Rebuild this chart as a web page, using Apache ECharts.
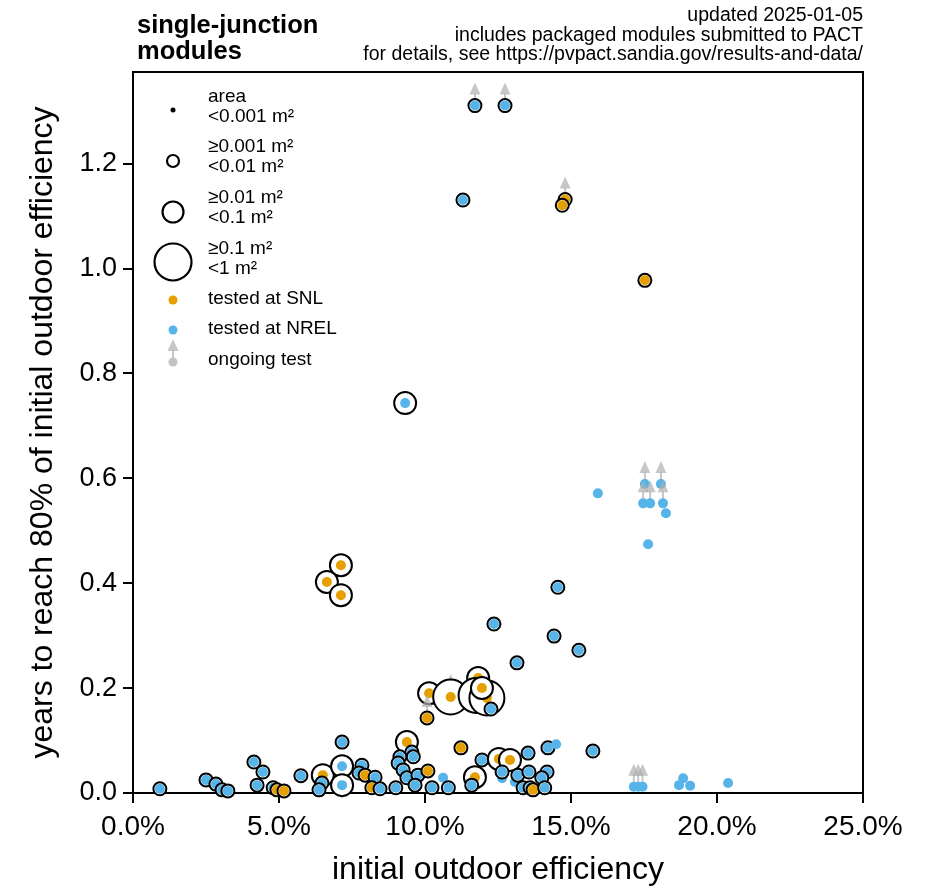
<!DOCTYPE html>
<html>
<head>
<meta charset="utf-8">
<script src="https://cdn.jsdelivr.net/npm/echarts@6/dist/echarts.min.js"></script>
<style>html,body{margin:0;padding:0;background:#fff;}#c{width:926px;height:890px;}</style>
</head>
<body>
<div id="c"></div>
<script>
// ---- data ----
// initial outdoor efficiency (%)
const effPct = [11.71,12.74,11.30,14.80,14.70,17.53,9.32,
  15.92,17.53,18.08,17.47,17.71,18.15,18.25,17.64,
  7.12,6.64,7.12,
  14.55,12.36,14.42,15.27,13.15,
  10.14,10.88,11.82,11.75,12.12,11.95,12.26,10.07,
  0.92,2.50,2.84,3.05,3.25,4.14,4.45,4.25,4.80,4.93,5.17,5.75,6.50,6.47,6.37,
  7.16,7.16,7.16,7.84,7.74,7.95,8.29,8.18,8.46,9.00,9.38,9.55,9.14,9.60,9.08,9.25,9.38,9.76,10.10,9.66,10.24,10.62,10.80,
  11.23,11.95,12.53,12.91,13.53,14.21,14.49,15.75,11.71,11.60,12.64,13.08,12.64,13.18,13.56,14.18,14.00,13.36,13.60,13.70,14.10,
  17.15,17.30,17.45,18.84,18.70,19.08,20.38];
// years to reach 80% of initial outdoor efficiency
const years = [1.310,1.310,1.130,1.131,1.120,0.977,0.743,
  0.571,0.589,0.589,0.552,0.552,0.552,0.533,0.474,
  0.434,0.402,0.377,
  0.392,0.322,0.299,0.272,0.248,
  0.190,0.183,0.219,0.186,0.181,0.200,0.160,0.143,
  0.008,0.025,0.017,0.006,0.004,0.059,0.040,0.015,0.010,0.006,0.004,0.033,0.034,0.019,0.006,
  0.097,0.051,0.015,0.053,0.038,0.034,0.030,0.010,0.008,0.010,0.097,0.078,0.069,0.069,0.057,0.044,0.029,0.034,0.042,0.015,0.010,0.029,0.010,
  0.086,0.063,0.065,0.063,0.076,0.086,0.093,0.080,0.030,0.015,0.028,0.021,0.040,0.034,0.040,0.040,0.029,0.010,0.010,0.006,0.010,
  0.012,0.012,0.012,0.028,0.015,0.014,0.019];
// area class: 0 <0.001 m², 1 <0.01 m², 2 <0.1 m², 3 <1 m²
const areaClass = [1,1,1,1,1,1,2,
  0,0,0,0,0,0,0,0,
  2,2,2,
  1,1,1,1,1,
  2,3,2,3,3,2,1,1,
  1,1,1,1,1,1,1,1,1,1,1,1,2,1,1,
  1,2,2,1,1,1,1,1,1,1,2,1,1,1,1,1,1,1,1,1,1,0,1,
  1,1,2,2,1,1,0,1,2,1,0,0,1,1,1,1,1,1,1,1,1,
  0,0,0,0,0,0,0];
// test site: S = SNL, N = NREL
const site = ['N','N','N','S','S','S','N',
  'N','N','N','N','N','N','N','N',
  'S','S','S',
  'N','N','N','N','N',
  'S','S','S','S','S','S','N','S',
  'N','N','N','N','N','N','N','N','N','S','S','N','S','N','N',
  'N','N','N','N','N','S','N','S','N','N','S','N','N','N','N','N','N','N','S','N','N','N','N',
  'S','N','S','S','N','N','N','N','S','N','N','N','N','N','N','N','N','N','N','S','N',
  'N','N','N','N','N','N','N'];
// ongoing test flag
const ongoing = [1,1,0,1,0,0,0,
  0,1,1,1,1,1,0,0,
  0,0,0,
  0,0,0,0,0,
  0,1,0,0,0,0,0,1,
  0,0,0,0,0,0,0,0,0,0,0,0,0,0,0,
  0,0,0,0,0,0,0,0,0,0,0,0,0,0,0,0,0,0,0,0,0,0,0,
  0,0,0,0,0,0,0,0,0,0,0,0,0,0,0,0,0,0,0,0,0,
  1,1,1,0,0,0,0];
const xTicks = [0,5,10,15,20,25];
const yTicks = [0,0.2,0.4,0.6,0.8,1.0,1.2];

const ORANGE = '#E69F00', BLUE = '#56B4E9', GREY = 'rgba(175,175,175,0.7)';
const FONT = '"Liberation Sans", Arial, Helvetica, sans-serif';
const ringR = [2.5, 6.5, 11, 17.5];

const rows = effPct.map((x, i) => [x, years[i], areaClass[i], site[i] === 'S' ? 0 : 1, ongoing[i]]);

function arrowShapes(cx, cy) {
  return [
    {type:'line', shape:{x1:cx, y1:cy, x2:cx, y2:cy-12}, style:{stroke:GREY, lineWidth:2}, silent:true},
    {type:'polygon', shape:{points:[[cx-5.5,cy-11],[cx+5.5,cy-11],[cx,cy-23]]}, style:{fill:GREY}, silent:true}
  ];
}

function renderItem(params, api) {
  const p = api.coord([api.value(0), api.value(1)]);
  const cls = api.value(2), lab = api.value(3), og = api.value(4);
  const children = [];
  if (og) children.push(...arrowShapes(p[0], p[1]));
  if (cls === 0) {
    children.push({type:'circle', shape:{cx:p[0], cy:p[1], r:ringR[0]}, style:{fill:'#000'}});
  } else {
    children.push({type:'circle', shape:{cx:p[0], cy:p[1], r:ringR[cls]}, style:{fill:'#fff', stroke:'#000', lineWidth:2}});
  }
  children.push({type:'circle', shape:{cx:p[0], cy:p[1], r:5}, style:{fill: lab === 0 ? ORANGE : BLUE}});
  return {type:'group', children};
}

// legend graphics
const LX = 173, TX = 208;
const legend = [];
const lt = (txt, y) => legend.push({type:'text', left:TX, top:y-11, style:{text:txt, font:'19px '+FONT, fill:'#000'}});
legend.push({type:'circle', shape:{cx:LX, cy:110, r:2.5}, style:{fill:'#000'}});
legend.push({type:'circle', shape:{cx:LX, cy:161, r:6}, style:{fill:'#fff', stroke:'#000', lineWidth:2.2}});
legend.push({type:'circle', shape:{cx:LX, cy:212, r:10.5}, style:{fill:'#fff', stroke:'#000', lineWidth:2.2}});
legend.push({type:'circle', shape:{cx:LX, cy:262, r:18.5}, style:{fill:'#fff', stroke:'#000', lineWidth:2.2}});
legend.push({type:'circle', shape:{cx:LX, cy:300, r:4.5}, style:{fill:ORANGE}});
legend.push({type:'circle', shape:{cx:LX, cy:330, r:4.5}, style:{fill:BLUE}});
legend.push(...arrowShapes(LX, 362));
legend.push({type:'circle', shape:{cx:LX, cy:362, r:4.5}, style:{fill:'rgba(195,195,195,1)'}});
lt('area', 98); lt('<0.001 m²', 118);
lt('≥0.001 m²', 148); lt('<0.01 m²', 168);
lt('≥0.01 m²', 199); lt('<0.1 m²', 219);
lt('≥0.1 m²', 250); lt('<1 m²', 270);
lt('tested at SNL', 300); lt('tested at NREL', 330); lt('ongoing test', 361);

const rightLines = ['updated 2025-01-05', 'includes packaged modules submitted to PACT', 'for details, see https://pvpact.sandia.gov/results-and-data/'];
const headerRight = rightLines.map((t, i) => ({type:'text', right:63, top:6 + i*19.5, style:{text:t, font:'19.5px '+FONT, fill:'#000'}}));

const chart = echarts.init(document.getElementById('c'), null, {renderer:'canvas'});
chart.setOption({
  animation: false,
  backgroundColor: '#fff',
  textStyle: {fontFamily: FONT},
  grid: {left:133, right:63, top:72, bottom:97, containLabel:false, outerBoundsMode:'none',
         show:true, borderColor:'#000', borderWidth:2, backgroundColor:'transparent'},
  xAxis: {
    type:'value', min:0, max:25, interval:5,
    name:'initial outdoor efficiency', nameLocation:'middle', nameGap:61,
    nameTextStyle:{fontSize:32, color:'#000', fontFamily:FONT},
    axisLine:{show:true, lineStyle:{color:'#000', width:2}},
    axisTick:{show:true, length:10, lineStyle:{color:'#000', width:2}, customValues: xTicks},
    axisLabel:{fontSize:28, color:'#000', margin:20, fontFamily:FONT, formatter: v => v.toFixed(1) + '%', customValues: xTicks},
    splitLine:{show:false}
  },
  yAxis: {
    type:'value', min:0, max:1.374,
    name:'years to reach 80% of initial outdoor efficiency', nameLocation:'middle', nameGap:74,
    nameTextStyle:{fontSize:32, color:'#000', fontFamily:FONT},
    axisLine:{show:true, lineStyle:{color:'#000', width:2}},
    axisTick:{show:true, length:10, lineStyle:{color:'#000', width:2}, customValues: yTicks},
    axisLabel:{fontSize:27, color:'#000', margin:16, fontFamily:FONT, formatter: v => v.toFixed(1), customValues: yTicks},
    splitLine:{show:false}
  },
  graphic: [
    {type:'text', left:137, top:13, style:{text:'single-junction\nmodules', font:'bold 25.5px '+FONT, lineHeight:26, fill:'#000'}},
    ...headerRight,
    ...legend
  ],
  series: [{
    type:'custom',
    coordinateSystem:'cartesian2d',
    renderItem,
    encode:{x:0, y:1},
    data: rows,
    clip:false
  }]
});
</script>
</body>
</html>
